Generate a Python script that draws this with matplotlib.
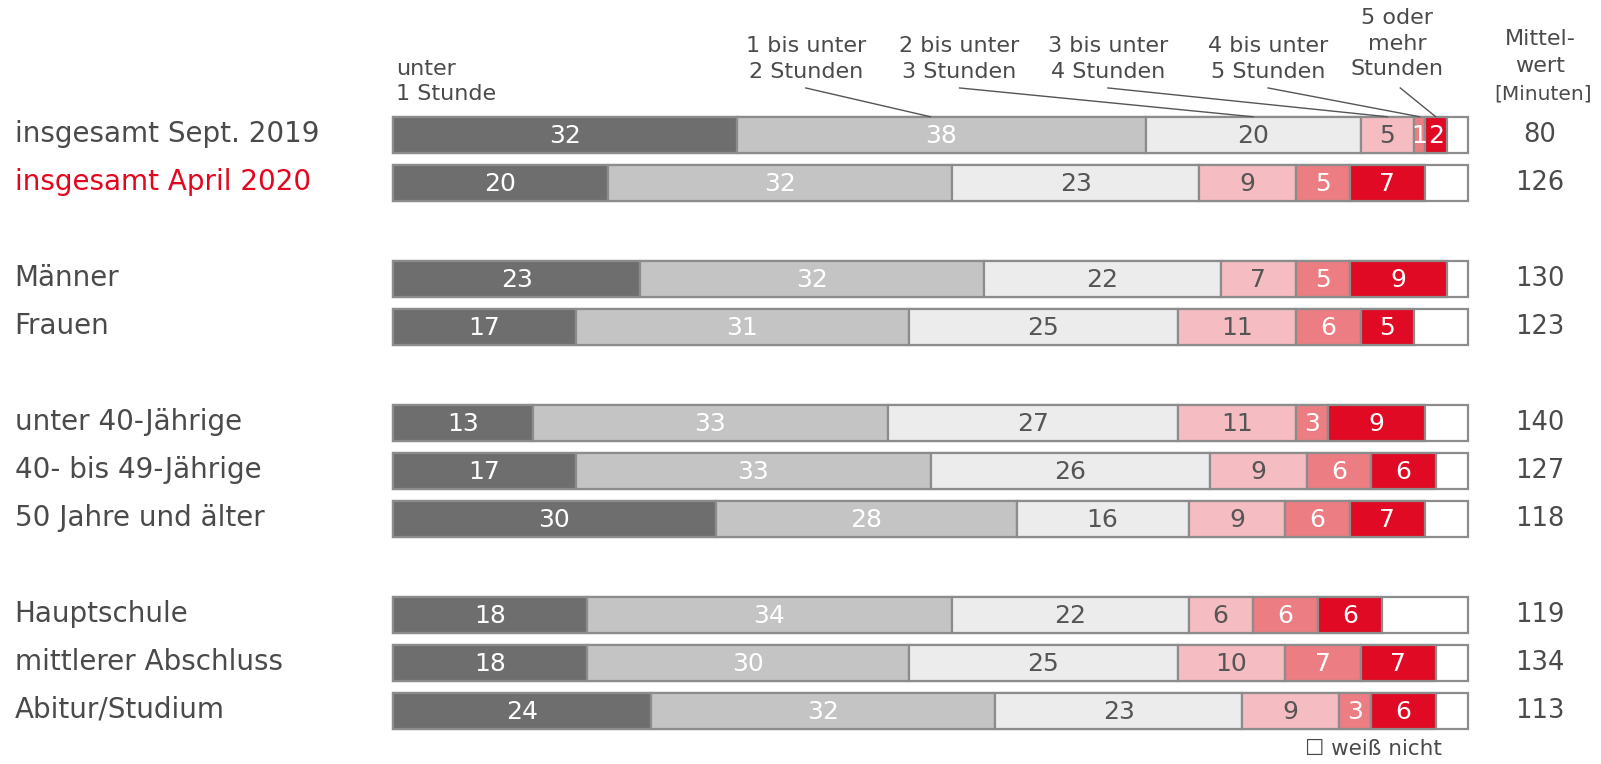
import numpy as np
import matplotlib.pyplot as plt

# Anteile in Prozent je Gruppe
rows = ["insgesamt Sept. 2019", "insgesamt April 2020", "Männer", "Frauen",
        "unter 40-Jährige", "40- bis 49-Jährige", "50 Jahre und älter",
        "Hauptschule", "mittlerer Abschluss", "Abitur/Studium"]
group_sizes = [2, 2, 3, 3]
unter_1h = [32, 20, 23, 17, 13, 17, 30, 18, 18, 24]
h1_2 = [38, 32, 32, 31, 33, 33, 28, 34, 30, 32]
h2_3 = [20, 23, 22, 25, 27, 26, 16, 22, 25, 23]
h3_4 = [5, 9, 7, 11, 11, 9, 9, 6, 10, 9]
h4_5 = [1, 5, 5, 6, 3, 6, 6, 6, 7, 3]
h5_plus = [2, 7, 9, 5, 9, 6, 7, 6, 7, 6]
mittelwert = [80, 126, 130, 123, 140, 127, 118, 119, 134, 113]

headers = ["unter\n1 Stunde", "1 bis unter\n2 Stunden", "2 bis unter\n3 Stunden",
           "3 bis unter\n4 Stunden", "4 bis unter\n5 Stunden", "5 oder\nmehr\nStunden"]

colors = ["#6e6e6e", "#c4c4c4", "#ececec", "#f5bcc1", "#eb7d83", "#e00a24"]
txt_colors = ["white", "white", "#555555", "#555555", "white", "white"]
edge = "#8c8c8c"
label_col = "#4a4a4a"
red = "#e3061f"

series = np.array([unter_1h, h1_2, h2_3, h3_4, h4_5, h5_plus], dtype=float)

# y-Positionen: Leerzeile zwischen den Gruppen
ypos = []
y = 0
for g in group_sizes:
    ypos.extend(range(y, y + g))
    y += g + 1
ypos = np.array(ypos)

W, H = 1601, 764
fig = plt.figure(figsize=(W / 100, H / 100), dpi=100)
ax = fig.add_axes([0, 0, 1, 1])
# 0..100 % -> Pixel 393..1468, Zeilenabstand 48 px, erste Zeile bei 135 px
x0, pxu = 393, 10.75
y0, pyu = 135, 48
ax.set_xlim(-x0 / pxu, (W - x0) / pxu)
ax.set_ylim((H - y0) / pyu, -y0 / pyu)
ax.axis("off")

bh = 0.76

# weiß nicht (Rest)
ax.barh(ypos, 100, height=bh, left=0, color="white", edgecolor=edge, linewidth=1.6)
lefts = np.zeros(len(rows))
for k in range(6):
    ax.barh(ypos, series[k], height=bh, left=lefts, color=colors[k],
            edgecolor=edge, linewidth=1.6)
    for i, v in enumerate(series[k]):
        if v > 0:
            ax.text(lefts[i] + v / 2, ypos[i] + 0.03, f"{v:g}", ha="center", va="center",
                    fontsize=18, color=txt_colors[k])
    lefts = lefts + series[k]

for i, name in enumerate(rows):
    ax.text(-35.2, ypos[i] - 0.03, name, ha="left", va="center", fontsize=20,
            color=red if i == 1 else label_col)
    ax.text(106.7, ypos[i], str(mittelwert[i]), ha="center", va="center",
            fontsize=18.5, color=label_col)

# Kopfzeilen mit Verbindungslinien zur ersten Zeile
top = ypos[0] - bh / 2
hs = 16
ax.text(0.3, -1.37, "unter", ha="left", va="center", fontsize=hs, color=label_col)
ax.text(0.3, -0.86, "1 Stunde", ha="left", va="center", fontsize=hs, color=label_col)
head_x = [38.4, 52.7, 66.5, 81.4]
cum0 = np.concatenate([[0], np.cumsum(series[:, 0])])
for k in range(1, 5):
    l1, l2 = headers[k].split("\n")
    ax.text(head_x[k - 1], -1.85, l1, ha="center", va="center", fontsize=hs, color=label_col)
    ax.text(head_x[k - 1], -1.32, l2, ha="center", va="center", fontsize=hs, color=label_col)
    ax.plot([head_x[k - 1], cum0[k] + series[k, 0] / 2 - (1 if k == 1 else 0)],
            [-0.98, top], color="#555555", lw=1.0)
for line, yy in zip(headers[5].split("\n"), [-2.43, -1.90, -1.37]):
    ax.text(93.4, yy, line, ha="center", va="center", fontsize=hs, color=label_col)
ax.plot([93.7, cum0[5] + series[5, 0] / 2], [-0.98, top], color="#555555", lw=1.0)

ax.text(106.7, -2.0, "Mittel-", ha="center", va="center", fontsize=hs, color=label_col)
ax.text(106.7, -1.43, "wert", ha="center", va="center", fontsize=hs, color=label_col)
ax.text(107.0, -0.86, "[Minuten]", ha="center", va="center", fontsize=14.5, color=label_col)

# Legende weiß nicht
ax.text(84.8, 12.8, "\u2610 weiß nicht", ha="left", va="center", fontsize=15.5,
        color=label_col)

fig.savefig("out.png", dpi=100)
